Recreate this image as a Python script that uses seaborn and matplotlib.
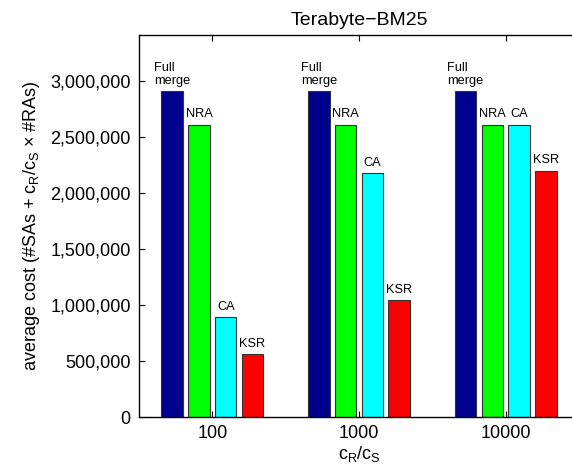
import matplotlib
matplotlib.use("Agg")
import matplotlib.pyplot as plt
import seaborn as sns
import pandas as pd
from matplotlib.ticker import FuncFormatter

ratios = ["100", "1000", "10000"]
methods = ["Full merge", "NRA", "CA", "KSR"]
bar_labels = ["Full\nmerge", "NRA", "CA", "KSR"]
full_merge = [2910000, 2910000, 2910000]
nra = [2610000, 2610000, 2610000]
ca = [895000, 2175000, 2610000]
ksr = [560000, 1045000, 2200000]
colors = ["#00008F", "#00FF00", "#00FFFF", "#FF0000"]

rows = []
for m, vals in zip(methods, [full_merge, nra, ca, ksr]):
    for r, v in zip(ratios, vals):
        rows.append({"ratio": r, "method": m, "cost": v})
df = pd.DataFrame(rows)

sns.set_style("ticks")
plt.rcParams["font.family"] = ["Liberation Sans", "DejaVu Sans"]
plt.rcParams["mathtext.default"] = "regular"
for k in ["text.color", "axes.labelcolor", "xtick.color", "ytick.color"]:
    plt.rcParams[k] = "black"

fig = plt.figure(figsize=(5.72, 4.73), dpi=100)
ax = fig.add_axes([139/572, 56/473, 440/572, 382/473])

sns.barplot(data=df, x="ratio", y="cost", hue="method", order=ratios,
            hue_order=methods, palette=colors, saturation=1, width=0.73, gap=0.2,
            edgecolor="#333333", linewidth=0.8, legend=False, ax=ax)

for cont, lab in zip(ax.containers, bar_labels):
    for bar in cont:
        x = bar.get_x() + bar.get_width() / 2
        h = bar.get_height()
        ax.annotate(lab, (x, h), xytext=(0, 3), textcoords="offset points",
                    ha="center", va="bottom", multialignment="left",
                    linespacing=1.05, fontsize=9.2, color="black")

ax.set_xlim(-0.5, 2.5)
ax.set_ylim(0, 3410000)
ax.set_yticks([0, 500000, 1000000, 1500000, 2000000, 2500000, 3000000])
ax.yaxis.set_major_formatter(FuncFormatter(lambda v, p: f"{int(v):,}"))
ax.tick_params(direction="in", top=True, right=True, labelsize=13, length=4,
               width=0.8, pad=6, colors="black")
for s in ax.spines.values():
    s.set_visible(True)
    s.set_linewidth(1.0)
    s.set_color("black")

ax.set_xlabel("c$_R$/c$_S$", fontsize=13, labelpad=1)
ax.set_ylabel("average cost (#SAs + c$_R$/c$_S$ × #RAs)", fontsize=13, labelpad=6)
ax.set_title("Terabyte−BM25", fontsize=14, pad=7)

fig.savefig("out.png", dpi=100)
